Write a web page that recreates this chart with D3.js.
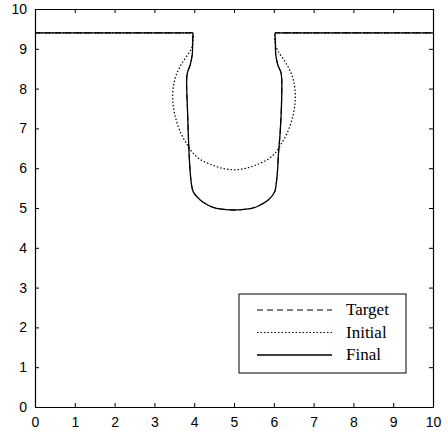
<!DOCTYPE html>
<html>
<head>
<meta charset="utf-8">
<script src="https://cdn.jsdelivr.net/npm/d3@7"></script>
<style>
  body { margin: 0; background: #fff; }
  svg { display: block; }
</style>
</head>
<body>
<svg id="chart" width="448" height="431"></svg>
<script>
// tick values for both axes
const xTicks = [0, 1, 2, 3, 4, 5, 6, 7, 8, 9, 10];
const yTicks = [0, 1, 2, 3, 4, 5, 6, 7, 8, 9, 10];

// final contour
const finalX = [0, 3.9, 3.96, 3.96, 3.95, 3.9, 3.83, 3.81, 3.83, 3.85, 3.87, 3.9, 3.93, 3.98, 4.15, 4.35, 4.56, 4.8, 5.0,
                5.2, 5.44, 5.65, 5.86, 6.02, 6.06, 6.09, 6.12, 6.16, 6.19, 6.2, 6.18, 6.1, 6.05, 6.04, 6.04, 6.1, 10];
const finalY = [9.4, 9.4, 9.4, 9.2, 8.85, 8.6, 8.4, 8.2, 7.5, 6.9, 6.4, 5.9, 5.6, 5.4, 5.2, 5.07, 4.99, 4.96, 4.95,
                4.96, 4.99, 5.07, 5.2, 5.4, 5.6, 5.9, 6.4, 6.9, 7.5, 8.2, 8.4, 8.6, 8.85, 9.2, 9.4, 9.4, 9.4];

// target contour sits under the final one
const targetX = finalX.slice();
const targetY = finalY.slice();

// initial contour
const initialX = [0, 3.9, 3.96, 3.96, 3.9, 3.7, 3.55, 3.47, 3.47, 3.55, 3.68, 3.82, 3.95, 4.15, 4.4, 4.7, 5.0,
                  5.3, 5.6, 5.85, 6.05, 6.18, 6.32, 6.45, 6.53, 6.53, 6.45, 6.3, 6.1, 6.04, 6.04, 6.1, 10];
const initialY = [9.4, 9.4, 9.4, 9.1, 8.95, 8.65, 8.35, 8.0, 7.6, 7.2, 6.85, 6.6, 6.4, 6.22, 6.1, 6.0, 5.96,
                  6.0, 6.1, 6.22, 6.4, 6.6, 6.85, 7.2, 7.6, 8.0, 8.35, 8.65, 8.95, 9.1, 9.4, 9.4, 9.4];

const series = [
  { name: 'Target', xs: targetX, ys: targetY, dash: '6,4', width: 1 },
  { name: 'Initial', xs: initialX, ys: initialY, dash: '1.5,2', width: 1.2 },
  { name: 'Final', xs: finalX, ys: finalY, dash: null, width: 1.3 }
];

const svg = d3.select('#chart');
const mLeft = 35, mRight = 433, mTop = 9, mBottom = 407;

const x = d3.scaleLinear().domain([0, 10]).range([mLeft, mRight]);
const y = d3.scaleLinear().domain([0, 10]).range([mBottom, mTop]);

const line = d3.line()
  .x(d => x(d[0]))
  .y(d => y(d[1]))
  .curve(d3.curveCatmullRom.alpha(0.5));

// curves
series.forEach(s => {
  svg.append('path')
    .datum(d3.zip(s.xs, s.ys))
    .attr('fill', 'none')
    .attr('stroke', '#000')
    .attr('stroke-width', s.width)
    .attr('stroke-dasharray', s.dash)
    .attr('d', line);
});

// axes, ticks inside, mirrored on top/right
const fmt = d3.format('d');
svg.append('g')
  .attr('transform', `translate(0,${mBottom})`)
  .call(d3.axisBottom(x).tickValues(xTicks).tickFormat(fmt).tickSizeInner(-4).tickSizeOuter(0).tickPadding(10));
svg.append('g')
  .attr('transform', `translate(${mLeft},0)`)
  .call(d3.axisLeft(y).tickValues(yTicks).tickFormat(fmt).tickSizeInner(-4).tickSizeOuter(0).tickPadding(8));
svg.append('g')
  .attr('transform', `translate(0,${mTop})`)
  .call(d3.axisTop(x).tickValues(xTicks).tickFormat('').tickSizeInner(-4).tickSizeOuter(0));
svg.append('g')
  .attr('transform', `translate(${mRight},0)`)
  .call(d3.axisRight(y).tickValues(yTicks).tickFormat('').tickSizeInner(-4).tickSizeOuter(0));

svg.selectAll('.domain').attr('stroke', '#000').attr('stroke-width', 1.2);
svg.selectAll('.tick line').attr('stroke', '#000');
svg.selectAll('.tick text')
  .attr('font-family', 'Liberation Sans, Arial, sans-serif')
  .attr('font-size', 14)
  .attr('fill', '#000');

// legend
const lg = svg.append('g').attr('transform', 'translate(239,294)');
lg.append('rect')
  .attr('width', 167).attr('height', 79)
  .attr('fill', '#fff').attr('stroke', '#000').attr('stroke-width', 1);

series.forEach((s, i) => {
  const yy = 16 + i * 22.5;
  lg.append('line')
    .attr('x1', 18).attr('x2', 93)
    .attr('y1', yy).attr('y2', yy)
    .attr('stroke', '#000')
    .attr('stroke-width', s.width)
    .attr('stroke-dasharray', s.dash);
  lg.append('text')
    .attr('x', 107).attr('y', yy + 5)
    .attr('font-family', 'Liberation Serif, Times New Roman, serif')
    .attr('font-size', 17)
    .text(s.name);
});
</script>
</body>
</html>
